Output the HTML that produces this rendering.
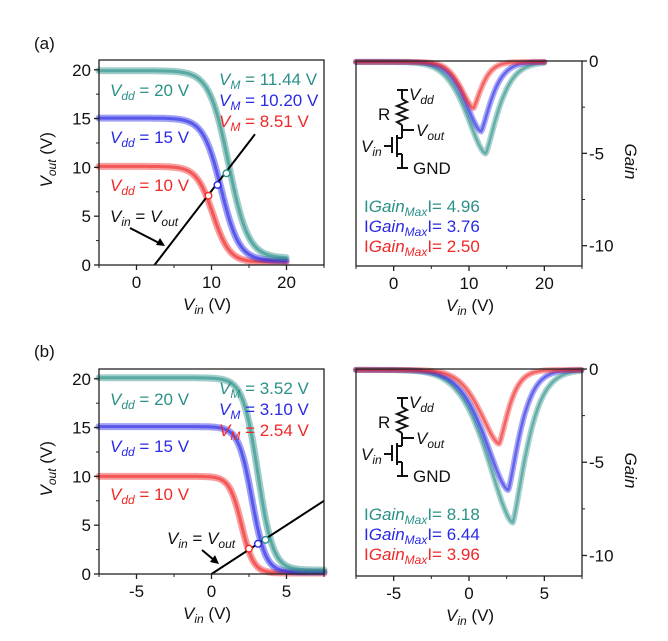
<!DOCTYPE html>
<html><head><meta charset="utf-8"><style>
body{margin:0;background:#fff}
svg{display:block;font-family:"Liberation Sans",Arial,sans-serif}
</style></head><body>
<svg id="s" width="668" height="641" viewBox="0 0 668 641" xmlns="http://www.w3.org/2000/svg">
<g id="g"></g>
</svg>
<script>
const NS="http://www.w3.org/2000/svg";const G=document.getElementById('g');
function el(t,a,txt){const e=document.createElementNS(NS,t);for(const k in a)e.setAttribute(k,a[k]);if(txt!==undefined)e.innerHTML=txt;G.appendChild(e);return e;}
const T='#2b9188',B='#2a2ae6',R='#f02828';
function frame(x0,y0,x1,y1){el('rect',{x:x0,y:y0,width:x1-x0,height:y1-y0,fill:'none',stroke:'#222','stroke-width':1.3});}
function path(pts,c,w,op){let d='';pts.forEach((p,i)=>d+=(i?'L':'M')+p[0].toFixed(1)+' '+p[1].toFixed(1));el('path',{d:d,fill:'none',stroke:c,'stroke-width':w,'stroke-opacity':op,'stroke-linejoin':'round','stroke-linecap':'round'});}
function vtc(cfg){
 const {x0,x1,y0,y1,xmin,xmax,ymin,ymax}=cfg;
 const X=v=>x0+(v-xmin)/(xmax-xmin)*(x1-x0), Y=v=>y1-(v-ymin)/(ymax-ymin)*(y1-y0);
 cfg.curves.forEach(c=>{
  const pts=[];for(let v=c.s;v<=c.e;v+=0.05){pts.push([X(v),Y(c.vdd/(1+Math.exp((v-c.m)/c.w))+c.f)]);}
  path(pts,c.col,7,0.45);path(pts,c.col,3,0.6);
 });
 el('line',{x1:X(cfg.l[0]),y1:Y(cfg.l[1]),x2:X(cfg.l[2]),y2:Y(cfg.l[3]),stroke:'#000','stroke-width':2});
 cfg.circ.forEach(c=>el('circle',{cx:X(c[0]),cy:Y(c[1]),r:3.3,fill:'#fff',stroke:c[2],'stroke-width':1.4}));
 frame(x0,y0,x1,y1);
 cfg.xt.forEach(v=>{el('line',{x1:X(v),y1:y1,x2:X(v),y2:y1+5,stroke:'#222','stroke-width':1.3});el('text',{x:X(v),y:y1+23,'font-size':17,'text-anchor':'middle',fill:'#111'},v<0?'-'+(-v):v);});
 cfg.xm.forEach(v=>el('line',{x1:X(v),y1:y1,x2:X(v),y2:y1+3,stroke:'#222','stroke-width':1}));
 [0,5,10,15,20].forEach(v=>{el('line',{x1:x0,y1:Y(v),x2:x0-5,y2:Y(v),stroke:'#222','stroke-width':1.3});el('text',{x:x0-8,y:Y(v)+6,'font-size':17,'text-anchor':'end',fill:'#111'},v);});
 [2.5,7.5,12.5,17.5].forEach(v=>el('line',{x1:x0,y1:Y(v),x2:x0-3,y2:Y(v),stroke:'#222','stroke-width':1}));
}
function gainplot(cfg){
 const {x0,x1,y0,y1,xmin,xmax}=cfg;const ymin=-11.1,ymax=0;
 const X=v=>x0+(v-xmin)/(xmax-xmin)*(x1-x0), Y=v=>y1-(v-ymin)/(ymax-ymin)*(y1-y0);
 cfg.curves.forEach(c=>{
  const pts=[];for(let v=c.s;v<=c.e;v+=0.04){const w=v<c.m?c.wl:c.wr;const p=v<c.m?1.6:1.3;pts.push([X(v),Y(-c.g*Math.exp(-Math.pow(Math.abs(v-c.m)/w,p))-0.05)]);}
  path(pts,c.col,6,0.4);path(pts,c.col,2.5,0.55);
 });
 frame(x0,y0,x1,y1);
 cfg.xt.forEach(v=>{el('line',{x1:X(v),y1:y1,x2:X(v),y2:y1+5,stroke:'#222','stroke-width':1.3});el('text',{x:X(v),y:y1+23,'font-size':17,'text-anchor':'middle',fill:'#111'},v<0?'-'+(-v):v);});
 cfg.xm.forEach(v=>el('line',{x1:X(v),y1:y1,x2:X(v),y2:y1+3,stroke:'#222','stroke-width':1}));
 [0,-5,-10].forEach(v=>{el('line',{x1:x1,y1:Y(v),x2:x1+5,y2:Y(v),stroke:'#222','stroke-width':1.3});el('text',{x:x1+7,y:Y(v)+6,'font-size':17,fill:'#111'},v==0?'0':'-'+(-v));});
 [-2.5,-7.5].forEach(v=>el('line',{x1:x1,y1:Y(v),x2:x1+3,y2:Y(v),stroke:'#222','stroke-width':1}));
 const oy=y0;
 const L=(a,b,c,d)=>el('line',{x1:a,y1:b+oy,x2:c,y2:d+oy,stroke:'#111','stroke-width':2});
 L(397,29,408,29);L(402,29,402,38);
 el('path',{d:`M402 ${38+oy} l5 3 l-10 4 l10 4 l-10 4 l10 4 l-10 4 l5 3`,fill:'none',stroke:'#111','stroke-width':2});
 L(402,64,402,77);L(402,69,414,69);L(402,77,397,77);L(397,74,397,96);L(392,76,392,92);L(384,85,392,85);L(397,93,402,93);L(402,93,402,107);L(397,107,408,107);
 const t=(x,y,s,fs)=>el('text',{x:x,y:y+oy,'font-size':fs||17,fill:'#111'},s);
 t(409,39,'<tspan font-style="italic">V</tspan><tspan font-style="italic" font-size="12" dy="4">dd</tspan>');
 t(378,59,'R');
 t(416,75,'<tspan font-style="italic">V</tspan><tspan font-style="italic" font-size="12" dy="4">out</tspan>');
 t(361,91,'<tspan font-style="italic">V</tspan><tspan font-style="italic" font-size="12" dy="4">in</tspan>');
 t(413,113,'GND');
 cfg.labels.forEach((l,i)=>el('text',{x:364,y:y0+151+i*20,'font-size':17,fill:l[0]},`I<tspan font-style="italic">Gain</tspan><tspan font-style="italic" font-size="12" dy="4">Max</tspan><tspan dy="-4">I= ${l[1]}</tspan>`));
 el('text',{x:0,y:0,'font-size':17,'font-style':'italic',fill:'#111',transform:`translate(625,${(y0+y1)/2-20}) rotate(90)`},'Gain');
 el('text',{x:(x0+x1)/2-23,y:y1+45,'font-size':17,fill:'#111'},'<tspan font-style="italic">V</tspan><tspan font-style="italic" font-size="12" dy="4">in</tspan><tspan dy="-4"> (V)</tspan>');
}
function leftLabels(x0,y0,y1,vdd,vm){
 el('text',{x:0,y:0,'font-size':17,fill:'#111',transform:`translate(52,${(y0+y1)/2+25}) rotate(-90)`},'<tspan font-style="italic">V</tspan><tspan font-style="italic" font-size="12" dy="4">out</tspan><tspan dy="-4"> (V)</tspan>');
 el('text',{x:183,y:y1+45,'font-size':17,fill:'#111'},'<tspan font-style="italic">V</tspan><tspan font-style="italic" font-size="12" dy="4">in</tspan><tspan dy="-4"> (V)</tspan>');
 [[T,'20',36],[B,'15',83],[R,'10',131]].forEach(a=>el('text',{x:110,y:y0+a[2],'font-size':17,fill:a[0]},`<tspan font-style="italic">V</tspan><tspan font-style="italic" font-size="12" dy="4">dd</tspan><tspan dy="-4"> = ${a[1]} V</tspan>`));
 [[T,vm[0]],[B,vm[1]],[R,vm[2]]].forEach((a,i)=>el('text',{x:219,y:y0+25+i*21,'font-size':17,fill:a[0]},`<tspan font-style="italic">V</tspan><tspan font-style="italic" font-size="12" dy="4">M</tspan><tspan dy="-4">${a[1]}</tspan>`));
}
el('text',{x:34,y:49,'font-size':17,fill:'#111'},'(a)');
el('text',{x:34,y:357,'font-size':17,fill:'#111'},'(b)');
vtc({x0:99,x1:324,y0:60,y1:265,xmin:-5,xmax:25,ymin:0,ymax:21,
 curves:[{s:-5,e:20,vdd:9.8,m:10.2,w:1.1,f:0.3,col:R},{s:-5,e:20,vdd:14.6,m:11.3,w:1.2,f:0.45,col:B},{s:-5,e:20,vdd:19.2,m:12.3,w:1.3,f:0.7,col:T}],
 l:[2.4,0,15.8,13.4],circ:[[9.6,7.1,R],[10.8,8.2,B],[12,9.4,T]],xt:[0,10,20],xm:[-5,5,15,25]});
leftLabels(99,60,265,0,[' = 11.44 V',' = 10.20 V',' =   8.51 V']);
el('line',{x1:130,y1:228,x2:161,y2:244,stroke:'#000','stroke-width':2});
el('path',{d:'M165 246 l-9 -1 l4 -7 z',fill:'#000'});
el('text',{x:110,y:222,'font-size':17,fill:'#111'},'<tspan font-style="italic">V</tspan><tspan font-style="italic" font-size="12" dy="4">in</tspan><tspan dy="-4"> = </tspan><tspan font-style="italic">V</tspan><tspan font-style="italic" font-size="12" dy="4">out</tspan>');
gainplot({x0:356,x1:582,y0:61,y1:266,xmin:-5,xmax:25,
 curves:[{s:-5,e:20,g:4.96,m:12.2,wl:3.6,wr:2.4,col:T},{s:-5,e:20,g:3.76,m:11.6,wl:3.0,wr:2.0,col:B},{s:-5,e:20,g:2.5,m:10.6,wl:2.4,wr:1.6,col:R}],
 xt:[0,10,20],xm:[-5,5,15,25],labels:[[T,'4.96'],[B,'3.76'],[R,'2.50']]});
vtc({x0:99,x1:324,y0:369,y1:574,xmin:-7.5,xmax:7.5,ymin:0,ymax:21,
 curves:[{s:-7.5,e:7.5,vdd:9.9,m:2.0,w:0.4,f:0.1,col:R},{s:-7.5,e:7.5,vdd:14.9,m:2.7,w:0.45,f:0.2,col:B},{s:-7.5,e:7.5,vdd:19.7,m:3.1,w:0.5,f:0.4,col:T}],
 l:[0,0,7.5,7.5],circ:[[2.5,2.6,R],[3.1,3.1,B],[3.6,3.5,T]],xt:[-5,0,5],xm:[-7.5,-2.5,2.5,7.5]});
leftLabels(99,369,574,0,[' = 3.52 V',' = 3.10 V',' = 2.54 V']);
el('line',{x1:202,y1:550,x2:214,y2:560,stroke:'#000','stroke-width':2});
el('path',{d:'M219 564 l-9 -2 l5 -7 z',fill:'#000'});
el('text',{x:167,y:544,'font-size':17,fill:'#111'},'<tspan font-style="italic">V</tspan><tspan font-style="italic" font-size="12" dy="4">in</tspan><tspan dy="-4"> = </tspan><tspan font-style="italic">V</tspan><tspan font-style="italic" font-size="12" dy="4">out</tspan>');
gainplot({x0:356,x1:582,y0:369,y1:576,xmin:-7.5,xmax:7.5,
 curves:[{s:-7.5,e:7.5,g:8.18,m:2.9,wl:2.4,wr:1.3,col:T},{s:-7.5,e:7.5,g:6.44,m:2.6,wl:2.2,wr:1.1,col:B},{s:-7.5,e:7.5,g:3.96,m:2.0,wl:1.8,wr:0.9,col:R}],
 xt:[-5,0,5],xm:[-7.5,-2.5,2.5,7.5],labels:[[T,'8.18'],[B,'6.44'],[R,'3.96']]});
</script>
</body></html>
